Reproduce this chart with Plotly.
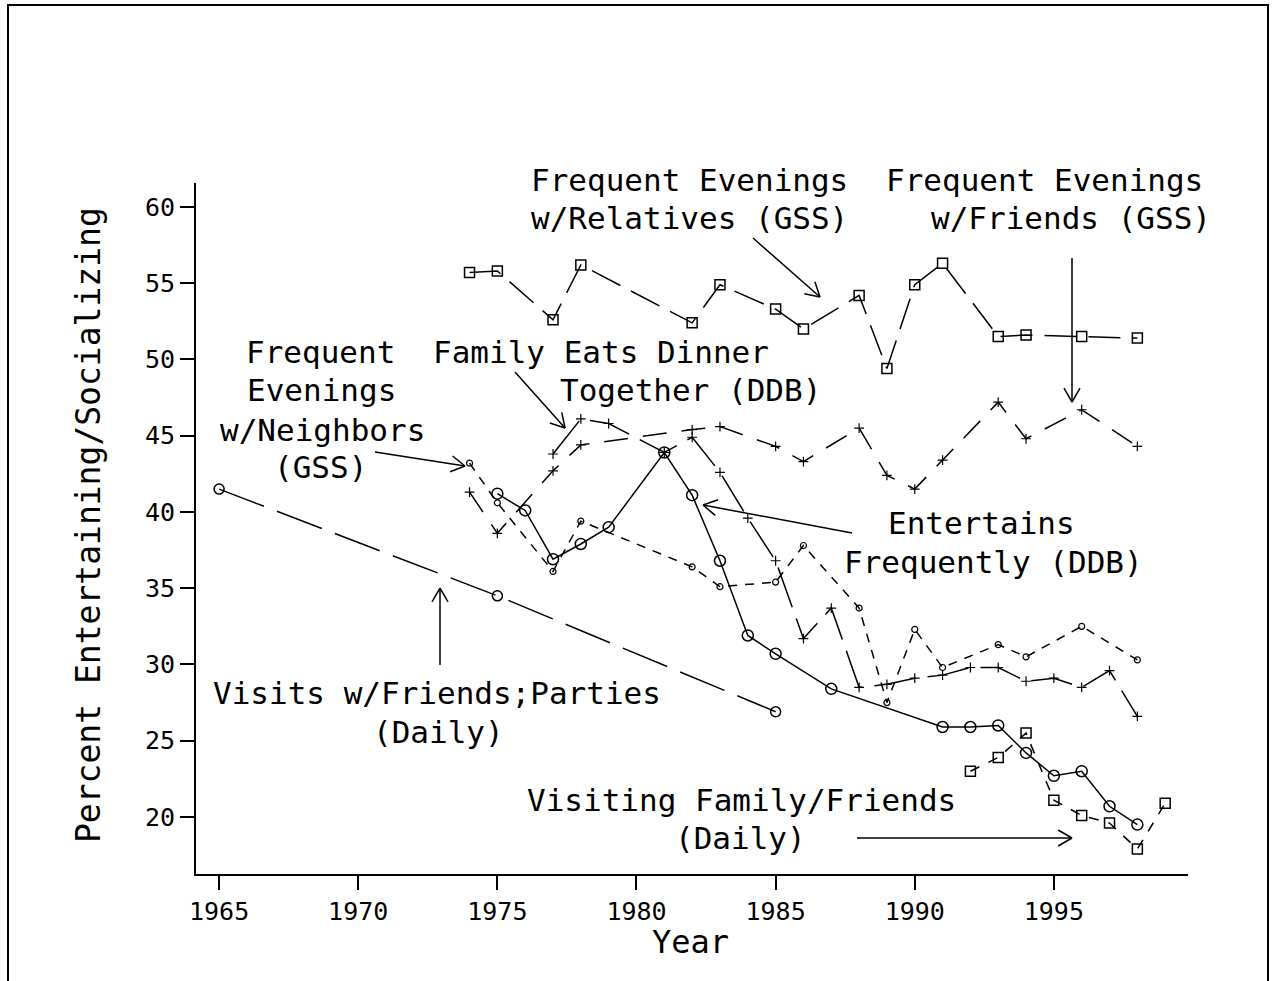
import math
import plotly.graph_objects as go

# ---------------- data ----------------
years_gss = [1974, 1975, 1977, 1978, 1982, 1983, 1985, 1986, 1988, 1989, 1990, 1991, 1993, 1994, 1996, 1998]
relatives_gss = [55.7, 55.8, 52.6, 56.2, 52.4, 54.9, 53.3, 52.0, 54.2, 49.4, 54.9, 56.3, 51.5, 51.6, 51.5, 51.4]
friends_gss = [41.3, 38.6, 42.7, 44.4, 45.4, 45.6, 44.3, 43.3, 45.5, 42.4, 41.5, 43.4, 47.2, 44.8, 46.7, 44.3]
neighbors_gss = [43.2, 40.6, 36.1, 39.4, 36.4, 35.1, 35.4, 37.8, 33.7, 27.5, 32.3, 29.8, 31.3, 30.5, 32.5, 30.3]

years_dinner = [1977, 1978, 1979, 1981, 1982, 1983, 1984, 1985, 1986, 1987, 1988, 1989, 1990,
                1991, 1992, 1993, 1994, 1995, 1996, 1997, 1998]
dinner_ddb = [43.8, 46.1, 45.8, 43.9, 44.9, 42.6, 39.6, 36.8, 31.7, 33.7, 28.5, 28.7, 29.1,
              29.3, 29.8, 29.8, 28.9, 29.1, 28.5, 29.6, 26.6]

years_entertain = [1975, 1976, 1977, 1978, 1979, 1981, 1982, 1983, 1984, 1985, 1987,
                   1991, 1992, 1993, 1994, 1995, 1996, 1997, 1998]
entertain_ddb = [41.2, 40.1, 36.9, 37.9, 39.0, 43.9, 41.1, 36.8, 31.9, 30.7, 28.4,
                 25.9, 25.9, 26.0, 24.2, 22.7, 23.0, 20.7, 19.5]

years_visits = [1965, 1975, 1985]
visits_daily = [41.5, 34.5, 26.9]

years_visiting = [1992, 1993, 1994, 1995, 1996, 1997, 1998, 1999]
visiting_daily = [23.0, 23.9, 25.5, 21.1, 20.1, 19.6, 17.9, 20.9]

x_ticks = [1965, 1970, 1975, 1980, 1985, 1990, 1995]
y_ticks = [20, 25, 30, 35, 40, 45, 50, 55, 60]

# ---------------- layout geometry ----------------
W, H = 1273, 981
L, R, T, B = 196, 1188, 183, 874
XR = [1964.17, 1999.82]
YR = [16.26, 61.57]
FONT = "DejaVu Sans Mono"


def ppx(px):
    return (px - L) / (R - L)


def ppy(py):
    return (B - py) / (B - T)


fig = go.Figure()


def add(x, y, symbol, size, dash, mlw=1.5):
    fig.add_trace(go.Scatter(
        x=x, y=y, mode="lines+markers",
        line=dict(color="black", width=1.5, dash=dash),
        marker=dict(symbol=symbol, size=size, color="black",
                    line=dict(color="black", width=mlw)),
        showlegend=False, hoverinfo="skip"))


add(years_gss, relatives_gss, "square-open", 10, "32px,12px")
add(years_gss, friends_gss, "cross-thin-open", 7, "24px,15px", 1.2)
add(years_gss, neighbors_gss, "circle-open", 6, "9px,8px", 1.2)
add(years_dinner, dinner_ddb, "cross-thin-open", 7, "42px,12px", 1.2)
add(years_entertain, entertain_ddb, "circle-open", 11, "solid")
add(years_visits, visits_daily, "circle-open", 10, "48px,14px")
add(years_visiting, visiting_daily, "square-open", 10, "10px,10px")

annotations = []
shapes = []


def label(text, cx, cy, size=31):
    annotations.append(dict(text=text, x=ppx(cx), y=ppy(cy), xref="paper", yref="paper",
                            showarrow=False, xanchor="center", yanchor="middle",
                            font=dict(family=FONT, size=size, color="black")))


def seg(x0, y0, x1, y1, w=1.5):
    shapes.append(dict(type="line", xref="paper", yref="paper",
                       x0=ppx(x0), y0=ppy(y0), x1=ppx(x1), y1=ppy(y1),
                       line=dict(color="black", width=w)))


def arrow(tx, ty, hx, hy, arm=16, ang=30):
    seg(tx, ty, hx, hy)
    d = math.hypot(hx - tx, hy - ty)
    ux, uy = (tx - hx) / d, (ty - hy) / d
    for s in (-1, 1):
        a = math.radians(ang * s)
        vx = ux * math.cos(a) - uy * math.sin(a)
        vy = ux * math.sin(a) + uy * math.cos(a)
        seg(hx, hy, hx + arm * vx, hy + arm * vy)


label("Frequent Evenings", 689, 180)
label("w/Relatives (GSS)", 689, 218)
label("Frequent Evenings", 1044, 180)
label("w/Friends (GSS)", 1071, 218)
label("Frequent", 320, 352)
label("Evenings", 321, 390)
label("w/Neighbors", 322, 430)
label("(GSS)", 320, 467)
label("Family Eats Dinner", 601, 352)
label("Together (DDB)", 690, 390)
label("Entertains", 981, 523)
label("Frequently (DDB)", 993, 562)
label("Visits w/Friends;Parties", 437, 693)
label("(Daily)", 438, 732)
label("Visiting Family/Friends", 741, 800)
label("(Daily)", 740, 838)

arrow(753, 238, 820, 297)
arrow(1072, 258, 1072, 402)
arrow(375, 452, 465, 466)
arrow(515, 372, 565, 428)
arrow(852, 533, 703, 505)
arrow(440, 665, 440, 588)
arrow(857, 838, 1072, 838)

# axis titles
annotations.append(dict(text="Year", x=ppx(690), y=ppy(942),
                        xref="paper", yref="paper", showarrow=False,
                        xanchor="center", yanchor="middle",
                        font=dict(family=FONT, size=32, color="black")))
annotations.append(dict(text="Percent Entertaining/Socializing", x=ppx(88),
                        y=ppy(525), xref="paper", yref="paper", showarrow=False,
                        textangle=-90, xanchor="center", yanchor="middle",
                        font=dict(family=FONT, size=33, color="black")))

shapes.append(dict(type="rect", xref="paper", yref="paper",
                   x0=ppx(8), x1=ppx(1268), y0=ppy(1010), y1=ppy(5),
                   line=dict(color="black", width=2), fillcolor="rgba(0,0,0,0)"))

axis_common = dict(showline=True, linecolor="black", linewidth=2, showgrid=False,
                   zeroline=False, ticks="outside", ticklen=14, tickwidth=1.5,
                   tickcolor="black", tickfont=dict(family=FONT, size=25, color="black"))

fig.update_layout(
    width=W, height=H,
    margin=dict(l=L, r=W - R, t=T, b=H - B, pad=0),
    paper_bgcolor="white", plot_bgcolor="white",
    xaxis=dict(range=XR, tickvals=x_ticks, ticktext=[str(v) for v in x_ticks], **axis_common),
    yaxis=dict(range=YR, tickvals=y_ticks, ticktext=[str(v) for v in y_ticks], **axis_common),
    annotations=annotations, shapes=shapes,
)

fig.write_html("out.html", config={"displayModeBar": False},
               post_script="document.body.style.margin='0px';document.body.style.overflow='hidden';")
